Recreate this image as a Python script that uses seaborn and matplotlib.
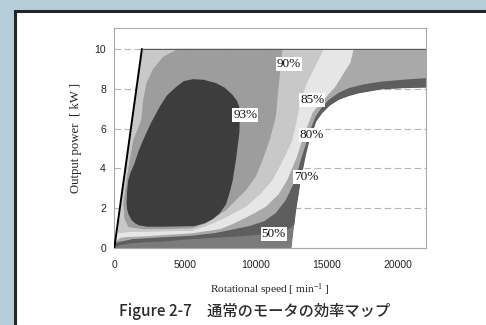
import numpy as np
import matplotlib
matplotlib.use("Agg")
import matplotlib.pyplot as plt
from matplotlib.patches import Polygon, Rectangle
import seaborn as sns

# ---- efficiency map data (speed in min^-1, output power in kW) ----
band_labels = ["<50", "50", "70", "80", "85", "90", "93"]
band_shades = ["#7b7b7b", "#5e5e5e", "#a9a9a9", "#e6e6e6", "#c8c8c8", "#9d9d9d", "#3d3d3d"]

# Operating envelope: torque-limit line, 10 kW ceiling, high-speed boundary
env_speed = [0, 1950, 22000, 22000, 20500, 18880, 17250, 16500, 15840, 15200, 14670, 14250,
             13970, 13700, 13500, 13160, 12800, 12520]
env_power = [0, 10, 10, 8.06, 8.03, 7.97, 7.77, 7.62, 7.44, 7.15, 6.77, 6.35,
             5.76, 5.2, 4.6, 3.4, 1.74, 0]

# Regions at or above each efficiency level
eff50_speed = [-500, 300, 1000, 2000, 3500, 5500, 8000, 10000, 11260, 12300, 12800, 23000, 23000, -500]
eff50_power = [0, 0.12, 0.22, 0.28, 0.33, 0.45, 0.55, 0.65, 0.74, 0.95, 1.2, 1.2, 11.5, 11.5]

eff70_speed = [-500, 300, 1330, 2000, 3680, 5500, 7190, 9530, 10600, 11400, 12100, 12570, 12900,
               13160, 13620, 13900, 14210, 14650, 15140, 15800, 16550, 17600, 18880, 20500, 22000,
               23000, 23000, -500]
eff70_power = [0.1, 0.3, 0.45, 0.48, 0.55, 0.62, 0.76, 1.1, 1.35, 1.76, 2.4, 3.1, 3.7,
               4.42, 5.43, 6.05, 6.6, 7.07, 7.44, 7.78, 8.03, 8.22, 8.36, 8.46, 8.53,
               8.6, 11.5, 11.5]

eff80_speed = [-500, 150, 400, 800, 2000, 3500, 5500, 7500, 8350, 9500, 10700, 11600, 12200, 12900,
               13400, 14000, 14600, 15600, 16300, 16660, 16900, 17000, -500]
eff80_power = [0.2, 0.35, 0.5, 0.55, 0.58, 0.65, 0.74, 0.95, 1.2, 1.6, 2.07, 2.7, 3.4, 4.6,
               5.7, 6.8, 7.3, 8.1, 8.9, 9.3, 10, 11.5, 11.5]

eff85_speed = [-500, 700, 600, 380, 250, 500, 1000, 2500, 5500, 6500, 7800, 9290, 10300, 11160, 11900,
               12570, 12900, 13200, 13600, 14300, 14790, 14900, -500]
eff85_power = [11.5, 3.5, 2.8, 1.6, 0.75, 0.75, 0.8, 0.82, 0.87, 1.1, 1.5, 2.07, 2.7, 3.4, 4.4,
               5.4, 6.5, 7.5, 8.3, 9.3, 10, 11.5, 11.5]

eff90_speed = [4600, 4490, 3440, 2740, 2270, 2040, 1900, 1330, 900, 650, 700, 1000, 2000, 3680, 5500,
               6500, 7890, 9290, 10000, 10460, 11000, 11400, 11630, 11860, 11900]
eff90_power = [11.5, 10.0, 9.6, 9.0, 8.28, 7.44, 6.43, 5.4, 3.6, 2.3, 1.5, 1.05, 0.95, 0.95, 0.99,
               1.25, 1.9, 2.9, 3.6, 4.4, 5.5, 6.6, 8.3, 10, 11.5]

eff93_speed = [5550, 4900, 4380, 3700, 3210, 2600, 2040, 1700, 1400, 1150, 980, 900, 870, 900, 1000,
               1220, 1450, 1700, 2270, 3500, 5650, 6400, 6950, 7450, 7890, 8150, 8360, 8600, 8830,
               8850, 8820, 8650, 8350, 7800, 7190, 6300]
eff93_power = [8.48, 8.38, 8.1, 7.65, 7.1, 6.3, 5.43, 4.85, 4.2, 3.8, 3.4, 2.8, 2.25, 1.95, 1.7,
               1.4, 1.25, 1.15, 1.07, 1.07, 1.1, 1.25, 1.45, 1.75, 2.2, 2.8, 3.4, 4.5, 5.8,
               6.5, 7.1, 7.4, 7.69, 8.05, 8.28, 8.45]

# Contour labels: text and position
label_text = ["90%", "93%", "85%", "80%", "70%", "50%"]
label_speed = [12330, 9250, 13970, 13950, 13530, 11260]
label_power = [9.26, 6.67, 7.45, 5.66, 3.57, 0.70]

x_ticks = [0, 5000, 10000, 15000, 20000]
y_ticks = [0, 2, 4, 6, 8, 10]

# ---- styling ----
sns.set_theme(style="white")
plt.rcParams["font.family"] = ["Liberation Sans", "DejaVu Sans"]
plt.rcParams["mathtext.default"] = "regular"

W, H = 486, 325
fig = plt.figure(figsize=(W / 100, H / 100), dpi=100)
fig.patch.set_facecolor("#b6ceda")

# white panel with dark frame
panel = Rectangle((15 / W, -0.2), 1.2, (H - 10.8) / H + 0.2, transform=fig.transFigure,
                  facecolor="white", edgecolor="#262626", lw=2.2, zorder=-1)
fig.add_artist(panel)

ax = fig.add_axes([114.3 / W, 1 - 248 / H, (426 - 114.3) / W, (248 - 28) / H])
ax.set_facecolor("white")
ax.set_axisbelow(True)

clip = Polygon(np.column_stack([env_speed, env_power]), closed=True, transform=ax.transData)

regions = [
    (env_speed, env_power),
    (eff50_speed, eff50_power),
    (eff70_speed, eff70_power),
    (eff80_speed, eff80_power),
    (eff85_speed, eff85_power),
    (eff90_speed, eff90_power),
    (eff93_speed, eff93_power),
]
for (xs, ys), shade in zip(regions, band_shades):
    for p in ax.fill(xs, ys, color=shade, lw=0, zorder=1):
        p.set_clip_path(clip)

# torque-limit line and power ceiling
sns.lineplot(x=env_speed[:2], y=env_power[:2], sort=False, color="black", lw=1.4, ax=ax, zorder=3)
sns.lineplot(x=env_speed[1:3], y=env_power[1:3], sort=False, color="#555555", lw=0.7, ax=ax, zorder=3)

for t, xs, ys in zip(label_text, label_speed, label_power):
    ax.text(xs, ys, t, family=["Liberation Serif"], fontsize=9.5, ha="center", va="center",
            color="#111111", zorder=4,
            bbox=dict(boxstyle="square,pad=0.08", fc="white", ec="none"))

ax.set_xlim(0, 22000)
ax.set_ylim(0, 11.05)
ax.set_xticks(x_ticks)
ax.set_yticks(y_ticks)
ax.yaxis.grid(True, linestyle=(0, (6, 3)), color="#b5b5b5", lw=0.8)
ax.xaxis.grid(False)
for s in ax.spines.values():
    s.set_color("#a8a8a8")
    s.set_linewidth(0.8)
ax.tick_params(axis="x", direction="in", length=3, color="#a8a8a8", pad=9, labelsize=7.5,
               labelcolor="#222222")
ax.tick_params(axis="y", direction="in", length=0, pad=6, labelsize=7.5, labelcolor="#222222")

ax.set_xlabel("Rotational speed [ min$^{-1}$ ]", family=["Liberation Serif"], fontsize=8.2,
              color="#222222")
ax.xaxis.set_label_coords(0.5, -0.15)
ax.set_ylabel("Output power  [ kW ]", family=["Liberation Serif"], fontsize=9.2, color="#222222")
ax.yaxis.set_label_coords(-0.105, 0.5)

fig.text(255 / W, 1 - 311 / H, "Figure 2-7\u3000通常のモータの効率マップ",
         family=["Noto Sans CJK JP", "DejaVu Sans"], fontsize=11, fontweight="medium",
         color="#2b2b2b", ha="center", va="center")

fig.savefig("out.png", dpi=100, facecolor=fig.get_facecolor())
